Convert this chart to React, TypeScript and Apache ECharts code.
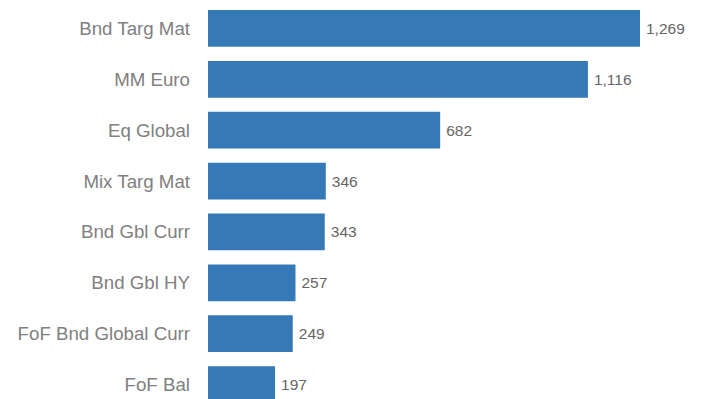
import React, { useEffect, useRef } from "react";
import * as echarts from "echarts";

const categories = [
  "Bnd Targ Mat",
  "MM Euro",
  "Eq Global",
  "Mix Targ Mat",
  "Bnd Gbl Curr",
  "Bnd Gbl HY",
  "FoF Bnd Global Curr",
  "FoF Bal",
];
const values = [1269, 1116, 682, 346, 343, 257, 249, 197];

export default function App() {
  const ref = useRef<HTMLDivElement>(null);
  useEffect(() => {
    document.body.style.margin = "0";
    const chart = echarts.init(ref.current!, null, { renderer: "svg" });
    chart.setOption({
      animation: false,
      grid: { left: 208, right: 61, top: 3, bottom: 0, containLabel: false },
      xAxis: {
        type: "value",
        min: 0,
        max: 1269,
        show: false,
      },
      yAxis: {
        type: "category",
        data: categories,
        inverse: true,
        axisLine: { show: false },
        axisTick: { show: false },
        axisLabel: {
          margin: 18,
          fontSize: 18.7,
          color: "#808080",
          fontFamily: "Liberation Sans, Arial, sans-serif",
        },
      },
      series: [
        {
          type: "bar",
          data: values,
          barCategoryGap: "28%",
          itemStyle: { color: "#357ab7" },
          label: {
            show: true,
            position: "right",
            distance: 6,
            fontSize: 15.5,
            color: "#666666",
            fontFamily: "Liberation Sans, Arial, sans-serif",
            formatter: (p: any) => p.value.toLocaleString("en-US"),
          },
        },
      ],
    });
    return () => chart.dispose();
  }, []);
  return (
    <div style={{ width: 701, height: 399, overflow: "hidden" }}>
      <div ref={ref} style={{ width: 701, height: 410 }} />
    </div>
  );
}
